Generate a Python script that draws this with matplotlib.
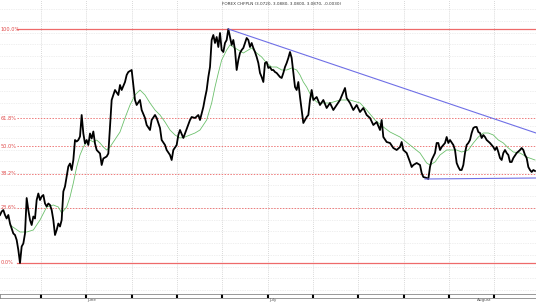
import matplotlib
matplotlib.use("Agg")
import matplotlib.pyplot as plt
import numpy as np

title = "FOREX CHFPLN (3.0720, 3.0880, 3.0800, 3.0870, -0.0030)"

price_day = [0,1,2,3,4,5,6,7,8,9,10,11,12,13,14,15,16,17,18,19,20,21,22,23,24,25,26,27,28,29,30,
             31,32,33,34,35,36,37,38,39,40,41,42,43,44,45,46,47,48,49,50,51,52,53,54,55,56,57,58,60,61,62,64,65,66,67,
             69,71,72,73,75,76,77,79,80,81,82,84,85,87,88,90,91,93,94,96,97,99,100,102,103,104,106,107,
             108,110,114,115,117,119,120,122,123,124,125,126,127,128,129,130,131,132,133,134,135,136,137,138,139,140,
             141,142,143,144,145,146,147,148,149,150,151,152,153,154,155,156,157,158,159,160,161,162,163,164,165,166,
             167,168,169,170,171,172,173,174,175,176,177,178,179,180,181,182,183,184,185,186,187,188,190,
             192,194,196,198,200,202,204,206,207,208,210,212,214,216,218,220,222,224,226,
             228,229,230,232,234,236,238,240,241,242,244,246,247,248,250,252,253,254,256,257,258,259,261,262,263,264,
             265,267,268,269,270,272,273,274,275,276,277,278,279,280,281,282,283,284,285,286,287,288,289,290,291,292,
             294,296,297,298,299,300,301,302,303,304,305,306,307,308,310,312,313,314,315,316,317,318,319,320,321]
price_close = [2.996,3.003,3.006,2.996,2.989,2.996,2.979,2.969,2.959,2.956,2.946,2.926,2.900,2.933,2.939,2.959,
               3.030,3.006,2.986,2.976,2.993,2.989,3.026,3.039,3.026,3.033,3.036,3.019,3.013,3.019,3.016,
               3.006,2.986,2.956,2.966,2.979,2.973,2.986,3.043,3.053,3.073,3.093,3.099,3.086,3.106,3.146,3.143,
               3.146,3.153,3.196,3.159,3.139,3.146,3.136,3.159,3.149,3.163,3.139,3.126,3.119,3.096,3.109,3.113,
               3.119,3.173,3.226,
               3.246,3.236,3.256,3.246,3.262,3.276,3.282,3.286,3.256,3.226,3.216,3.226,3.206,3.190,3.176,3.166,
               3.186,3.196,3.190,3.170,3.146,3.136,3.126,3.116,3.106,3.126,3.136,3.156,
               3.166,3.150,3.186,3.192,3.190,3.196,3.186,3.212,3.230,3.246,3.272,3.292,3.346,3.356,3.340,3.352,
               3.332,3.360,3.326,3.322,3.340,3.346,3.368,3.352,3.336,3.346,
               3.326,3.286,3.306,3.320,3.326,3.330,3.340,3.350,3.346,3.332,3.340,3.330,3.322,3.312,3.300,3.280,
               3.272,3.262,3.300,3.302,3.290,3.292,3.286,3.286,3.282,3.280,
               3.276,3.272,3.270,3.280,3.292,3.300,3.310,3.322,3.310,3.280,3.252,3.246,3.262,3.232,3.206,3.180,
               3.186,3.192,3.196,3.226,3.246,3.226,3.232,
               3.216,3.226,3.210,3.220,3.206,3.216,3.226,3.242,3.250,3.230,3.220,3.206,3.216,3.202,3.210,3.196,
               3.190,3.176,3.182,
               3.166,3.186,3.152,3.142,3.140,3.130,3.126,3.132,3.142,3.126,3.120,3.102,3.092,3.096,3.100,3.096,
               3.080,3.072,3.070,3.068,3.092,3.106,3.120,3.140,3.140,3.126,
               3.132,3.140,3.152,3.140,3.146,3.136,3.126,3.100,3.092,3.086,3.086,3.096,3.120,3.136,3.140,3.146,
               3.160,3.170,3.172,3.172,3.162,3.160,3.150,3.156,3.152,3.146,
               3.140,3.132,3.126,3.132,3.122,3.110,3.106,3.120,3.126,3.120,3.116,3.102,3.102,3.110,3.120,3.126,
               3.130,3.126,3.116,3.110,3.092,3.086,3.082,3.086,3.084]

ma_day = [6,12,16,20,24,28,32,35,37,40,42,44,46,48,50,52,54,56,58,60,62,64,66,70,72,75,78,81,84,87,90,93,96,
          99,102,105,108,111,114,117,120,124,127,129,131,133,136,138,140,143,146,149,151,154,157,160,163,166,
          169,172,175,178,180,182,184,187,190,192,198,204,210,216,220,225,230,234,240,246,252,256,258,261,264,
          268,271,274,277,281,284,287,290,293,296,299,302,305,308,312,316,321]
ma_value = [2.976,2.962,2.962,2.966,2.986,3.012,3.016,3.012,3.000,3.012,3.032,3.060,3.092,3.116,3.132,3.142,
            3.146,3.142,3.146,3.140,3.132,3.126,3.132,3.152,3.162,3.190,3.216,3.236,3.246,3.236,3.220,3.206,
            3.196,3.182,3.166,3.156,3.150,3.152,3.156,3.160,3.166,3.186,3.220,3.252,3.280,3.306,3.326,3.336,
            3.332,3.326,3.320,3.326,3.330,3.320,3.312,3.300,3.292,3.292,3.286,3.286,3.290,3.286,3.276,3.262,
            3.252,3.232,3.222,3.220,3.220,3.226,3.226,3.220,3.206,3.186,3.172,3.162,3.152,3.136,3.120,3.100,
            3.096,3.102,3.116,3.126,3.126,3.126,3.122,3.126,3.140,3.152,3.160,3.160,3.156,3.146,3.140,3.130,
            3.122,3.120,3.112,3.106]

fib_low = 2.900
fib_high = 3.368
fib_ratios = [0.0, 0.236, 0.382, 0.5, 0.618, 1.0]
fib_labels = ["0.0%", "23.6%", "38.2%", "50.0%", "61.8%", "100.0%"]

trend_day = [137, 321.6]
trend_value = [3.368, 3.160]
support_day = [255, 321.6]
support_value = [3.068, 3.070]

grid_days = [24.6, 51.6, 79.2, 106.2, 133.2, 160.8, 187.8, 214.8, 242.4, 269.4, 296.4]
month_labels = ["June", "July", "August"]
month_days = [52.2, 161.4, 286.2]

W, H = 536, 302
fig = plt.figure(figsize=(W / 100, H / 100), dpi=100)
fig.patch.set_facecolor("white")

ax = fig.add_axes([0, 9 / H, 1, 293 / H])
ax.set_xlim(0, 321.6)
ax.set_ylim(2.840, 3.426)
for s in ax.spines.values():
    s.set_visible(False)
ax.set_xticks([])
ax.set_yticks([])

# grid
for g in grid_days:
    ax.axvline(g, color="#cccccc", lw=0.6, ls=(0, (1, 1.5)), zorder=0)
for gy in np.arange(2.846, 3.426, 0.0234):
    ax.axhline(gy, color="#e0e0e0", lw=0.5, ls=(0, (1, 1.5)), zorder=0)

# fib lines
rng = fib_high - fib_low
for r, lab in zip(fib_ratios, fib_labels):
    lvl = fib_low + r * rng
    solid = r in (0.0, 1.0)
    ax.plot([10, 321.6], [lvl, lvl], color="#ee6a6a" if solid else "#ee7a7a",
            lw=0.9 if solid else 0.7, ls="-" if solid else (0, (1.5, 1.5)), zorder=1)
    ax.text(0.5, lvl, lab, color="#e04848", fontsize=3.6, va="center", ha="left", zorder=2)

ax.plot(ma_day, ma_value, color="#6cc06c", lw=0.6, zorder=3)
ax.plot(price_day, price_close, color="black", lw=1.3, zorder=4)
ax.plot(trend_day, trend_value, color="#6f6fe6", lw=0.8, zorder=5)
ax.plot(support_day, support_value, color="#6f6fe6", lw=0.8, zorder=5)

fig.text(0.525, 1 - 4 / H, title, fontsize=3.0, ha="center", va="center", color="#333333")

# date bar
bx = fig.add_axes([0, 4 / H, 1, 4 / H])
bx.set_xlim(0, 321.6)
bx.set_ylim(0, 1)
bx.set_xticks([])
bx.set_yticks([])
for s in bx.spines.values():
    s.set_color("#888888")
    s.set_linewidth(0.6)
for g in grid_days:
    bx.plot([g, g], [0, 1], color="black", lw=1.5, solid_capstyle="butt")
for lab, d in zip(month_labels, month_days):
    fig.text(d / 321.6, 1.5 / H, lab, fontsize=3.0, ha="left", va="center", color="#555555")

fig.savefig("out.png", dpi=100, facecolor="white")
